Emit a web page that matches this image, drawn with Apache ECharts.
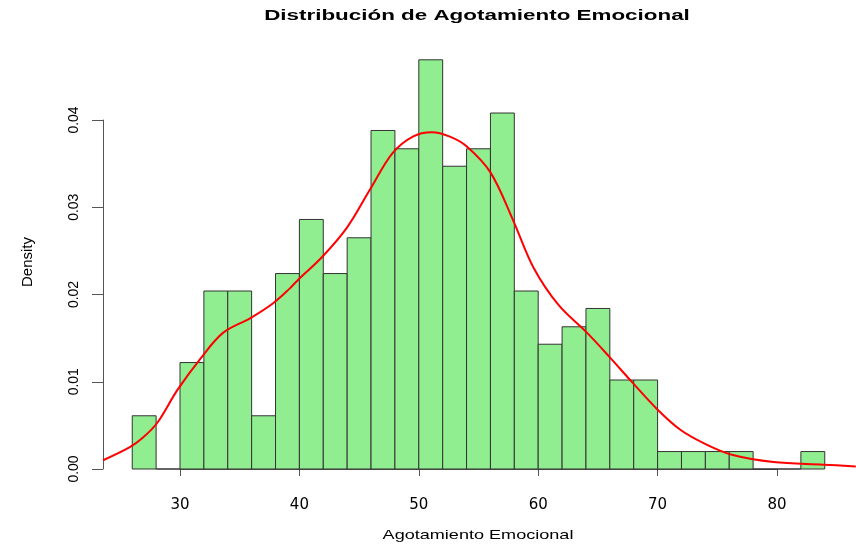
<!DOCTYPE html>
<html>
<head>
<meta charset="utf-8">
<script src="https://cdn.jsdelivr.net/npm/echarts@6/dist/echarts.min.js"></script>
<style>
  html, body { margin: 0; padding: 0; background: #fff; }
  #chart { width: 856px; height: 544px; }
</style>
</head>
<body>
<div id="chart"></div>
<script>
// histogram bins (width 2) and their densities
const binStarts = [26, 28, 30, 32, 34, 36, 38, 40, 42, 44, 46, 48, 50, 52, 54, 56, 58, 60, 62, 64, 66, 68, 70, 72, 74, 76, 78, 80, 82];
const binEnds = [28, 30, 32, 34, 36, 38, 40, 42, 44, 46, 48, 50, 52, 54, 56, 58, 60, 62, 64, 66, 68, 70, 72, 74, 76, 78, 80, 82, 84];
const densities = [0.0061, 0, 0.0122, 0.0204, 0.0204, 0.0061, 0.0224, 0.0286, 0.0224, 0.0265, 0.0388, 0.0367, 0.0469, 0.0347, 0.0367, 0.0408, 0.0204, 0.0143, 0.0163, 0.0184, 0.0102, 0.0102, 0.0020, 0.0020, 0.0020, 0.0020, 0, 0, 0.0020];

// kernel density curve
const curveX = [23.55, 25.8, 26.9, 28.1, 29.8, 31.8, 33.6, 35.9, 37.8, 39.2, 39.9, 41.9, 44.0, 45.9, 47.8, 49.5, 51.1, 52.6, 54.0, 56.0, 57.9, 59.6, 61.7, 64.1, 66.0, 67.9, 70.0, 71.9, 74.1, 76.3, 79.7, 83.9, 86.6];
const curveY = [0.0010, 0.0025, 0.0036, 0.0053, 0.0091, 0.0128, 0.0156, 0.0173, 0.0190, 0.0207, 0.0217, 0.0243, 0.0277, 0.0320, 0.0362, 0.0381, 0.0386, 0.0381, 0.0370, 0.0340, 0.0285, 0.0231, 0.0188, 0.0156, 0.0128, 0.0099, 0.0068, 0.0045, 0.0028, 0.0016, 0.0008, 0.0005, 0.0003];

const xTicks = [30, 40, 50, 60, 70, 80];
const yTicks = [0, 0.01, 0.02, 0.03, 0.04];

const chart = echarts.init(document.getElementById('chart'));

const option = {
  animation: false,
  backgroundColor: '#fff',
  grid: { left: 180, right: 79, top: 120, bottom: 75 },
  xAxis: {
    type: 'value',
    min: xTicks[0],
    max: xTicks[xTicks.length - 1],
    interval: 10,
    offset: 17,
    splitLine: { show: false },
    axisLine: { show: true, lineStyle: { color: '#555', width: 1 } },
    axisTick: { show: true, inside: false, length: 7, lineStyle: { color: '#555' } },
    axisLabel: { margin: 12, color: '#000', fontFamily: 'DejaVu Sans', fontSize: 15 }
  },
  yAxis: {
    type: 'value',
    min: yTicks[0],
    max: yTicks[yTicks.length - 1],
    interval: 0.01,
    offset: 77,
    splitLine: { show: false },
    axisLine: { show: true, lineStyle: { color: '#555', width: 1 } },
    axisTick: { show: true, inside: false, length: 11, lineStyle: { color: '#555' } },
    axisLabel: {
      rotate: 90,
      margin: 22,
      color: '#000',
      fontFamily: 'Liberation Sans Narrow, Liberation Sans',
      fontSize: 14,
      formatter: v => v.toFixed(2)
    }
  },
  graphic: [
    {
      type: 'text', x: 477, y: 16, scaleX: 1.6,
      style: {
        text: 'Distribución de Agotamiento Emocional',
        fontFamily: 'Liberation Sans', fontWeight: 'bold', fontSize: 14,
        fill: '#000', textAlign: 'center', textVerticalAlign: 'middle'
      }
    },
    {
      type: 'text', x: 478, y: 535, scaleX: 1.39,
      style: {
        text: 'Agotamiento Emocional',
        fontFamily: 'Liberation Sans', fontSize: 13,
        fill: '#000', textAlign: 'center', textVerticalAlign: 'middle'
      }
    },
    {
      type: 'text', x: 28, y: 262, rotation: Math.PI / 2,
      style: {
        text: 'Density',
        fontFamily: 'Liberation Sans Narrow, Liberation Sans', fontSize: 15,
        fill: '#000', textAlign: 'center', textVerticalAlign: 'middle'
      }
    }
  ],
  series: [
    {
      type: 'custom',
      clip: false,
      data: binStarts.map((s, i) => [s, binEnds[i], densities[i]]),
      renderItem: (params, api) => {
        const p0 = api.coord([api.value(0), api.value(2)]);
        const p1 = api.coord([api.value(1), 0]);
        return {
          type: 'rect',
          shape: { x: p0[0], y: p0[1], width: p1[0] - p0[0], height: p1[1] - p0[1] },
          style: { fill: '#90EE90', stroke: '#333', lineWidth: 1 }
        };
      }
    },
    {
      // density curve: one polyline through the axis scales, so it can run past the axis ticks
      type: 'custom',
      clip: false,
      z: 5,
      data: [0],
      renderItem: (params, api) => ({
        type: 'polyline',
        shape: {
          points: curveX.map((x, i) => api.coord([x, curveY[i]])),
          smooth: 0.35
        },
        style: { fill: null, stroke: '#ff0000', lineWidth: 2 }
      })
    }
  ]
};

chart.setOption(option);
</script>
</body>
</html>
